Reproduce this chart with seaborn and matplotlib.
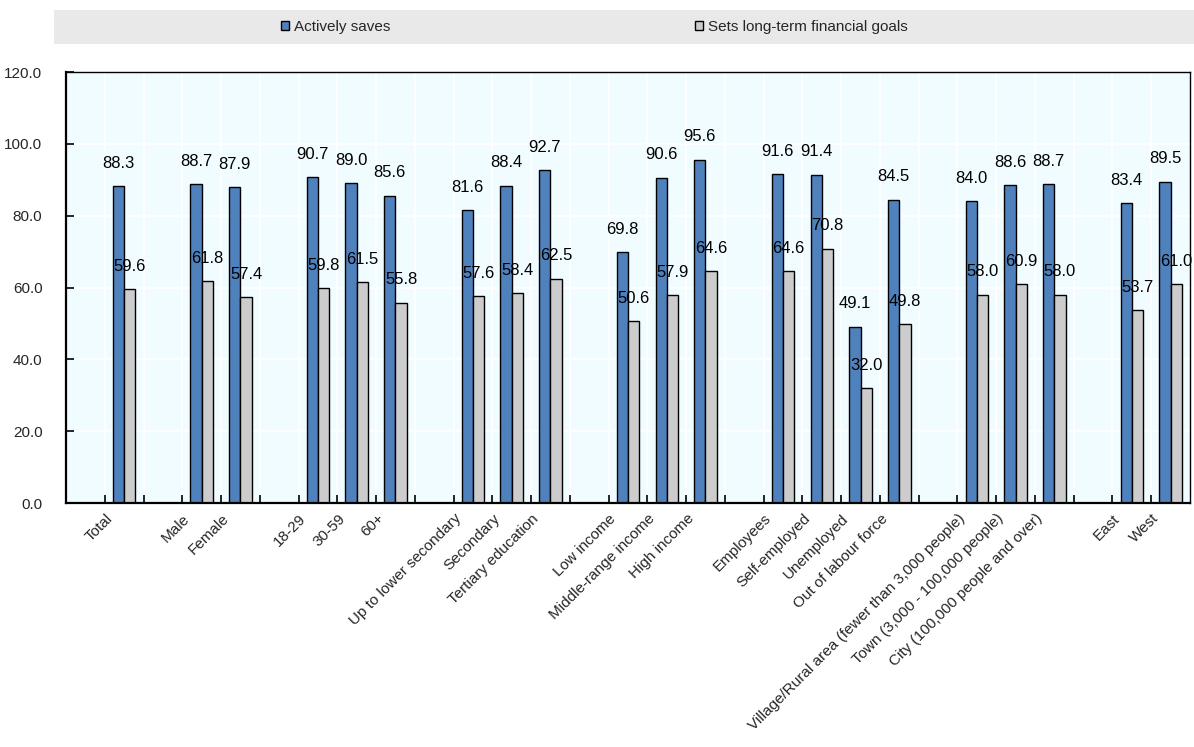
import numpy as np
import pandas as pd
import matplotlib
matplotlib.use("Agg")
import matplotlib.pyplot as plt
import matplotlib.transforms as mtransforms
import seaborn as sns
from matplotlib.patches import Rectangle, Patch

categories = ["Total", "Male", "Female", "18-29", "30-59", "60+",
              "Up to lower secondary", "Secondary", "Tertiary education",
              "Low income", "Middle-range income", "High income",
              "Employees", "Self-employed", "Unemployed", "Out of labour force",
              "Village/Rural area (fewer than 3,000 people)",
              "Town (3,000 - 100,000 people)", "City (100,000 people and over)",
              "East", "West"]
group_sizes = [1, 2, 3, 3, 3, 4, 3, 2]
actively_saves = [88.3, 88.7, 87.9, 90.7, 89.0, 85.6, 81.6, 88.4, 92.7,
                  69.8, 90.6, 95.6, 91.6, 91.4, 49.1, 84.5, 84.0, 88.6, 88.7,
                  83.4, 89.5]
long_term_goals = [59.6, 61.8, 57.4, 59.8, 61.5, 55.8, 57.6, 58.4, 62.5,
                   50.6, 57.9, 64.6, 64.6, 70.8, 32.0, 49.8, 58.0, 60.9, 58.0,
                   53.7, 61.0]
series_names = ["Actively saves", "Sets long-term financial goals"]
y_ticks = [0, 20, 40, 60, 80, 100, 120]

BLUE = "#4F81BD"
GRAY = "#CCCCCC"

sns.set_theme(style="white")
plt.rcParams["font.family"] = ["Liberation Sans", "DejaVu Sans"]
plt.rcParams["font.size"] = 11

# category order with blank spacer slots between groups
order = []
idx = 0
for k, g in enumerate(group_sizes):
    order.append(" " * (k + 1))
    order += categories[idx:idx + g]
    idx += g

df = pd.DataFrame({
    "category": categories * 2,
    "value": actively_saves + long_term_goals,
    "series": [series_names[0]] * len(categories) + [series_names[1]] * len(categories),
})

fig = plt.figure(figsize=(11.94, 7.47), dpi=100)
ax = fig.add_axes([0.0553, 0.3266, 0.9413, 0.577])
ax.set_facecolor("#F0FCFF")

sns.barplot(data=df, x="category", y="value", hue="series", order=order,
            hue_order=series_names, palette=[BLUE, GRAY], saturation=1,
            width=0.58, edgecolor="black", linewidth=1.0, errorbar=None,
            legend=False, ax=ax)

for cont in ax.containers:
    ax.bar_label(cont, fmt="%.1f", padding=11, fontsize=12, color="black")

ax.set_xlim(-0.5, len(order) - 0.5)
ax.set_ylim(0, 120)
ax.set_yticks(y_ticks)
ax.set_yticklabels([f"{v:.1f}" for v in y_ticks], fontsize=11)
ax.set_xticks(range(len(order)))
ax.set_xticks(np.arange(0.5, len(order) - 0.5, 1.0), minor=True)
ax.tick_params(axis="x", which="major", length=0, pad=6)
ax.tick_params(axis="x", which="minor", direction="in", length=6, width=1.2,
               color="black", bottom=True)
ax.tick_params(axis="y", direction="in", length=6, width=1.2, color="black",
               pad=17, left=True)
ax.set_xticklabels([o if o.strip() else "" for o in order], rotation=45,
                   ha="right", va="top", fontsize=11)
shift = mtransforms.ScaledTranslation(-0.09, 0.0, fig.dpi_scale_trans)
for tick in ax.xaxis.get_major_ticks():
    tick.label1.set_transform(tick.label1.get_transform() + shift)
ax.set_xlabel("")
ax.set_ylabel("")
ax.grid(which="minor", axis="x", color="white", lw=1.2)
ax.grid(which="major", axis="y", color="white", lw=1.2)
ax.set_axisbelow(True)
for name, sp in ax.spines.items():
    sp.set_visible(True)
    sp.set_color("black")
    sp.set_linewidth(1.6 if name in ("left", "bottom") else 1.0)

# legend band
fig.patches.append(Rectangle((54 / 1194, 1 - 44 / 747), 1 - 54 / 1194, 34 / 747,
                             transform=fig.transFigure, facecolor="#E9E9E9",
                             edgecolor="none", zorder=0))
colors = [BLUE, GRAY]
x_starts = [281 / 1194, 695 / 1194]
for name, col, xs in zip(series_names, colors, x_starts):
    fig.legend([Patch(facecolor=col, edgecolor="black", lw=1.0)], [name],
               loc="center left", bbox_to_anchor=(xs, 1 - 27 / 747),
               frameon=False, fontsize=11, handlelength=0.55, handleheight=0.55,
               handletextpad=0.3, borderpad=0, borderaxespad=0)

fig.savefig("out.png", dpi=100)
